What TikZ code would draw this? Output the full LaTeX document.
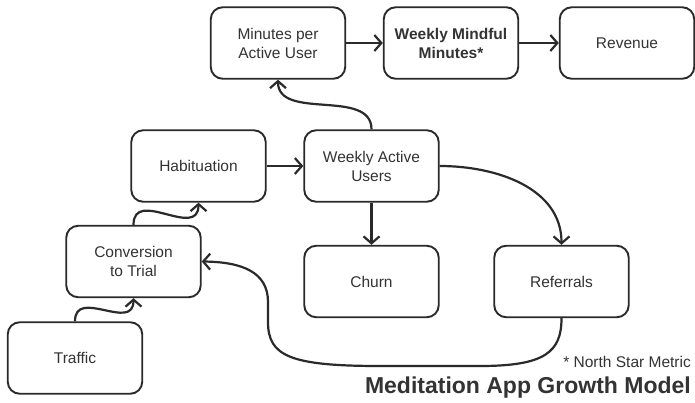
\documentclass[tikz,border=0pt]{standalone}
\usepackage{fontspec}
\setmainfont{Liberation Sans}
\usetikzlibrary{arrows.meta}
\definecolor{ink}{HTML}{2A2A2A}
\definecolor{txt}{HTML}{333333}
\begin{document}
\begin{tikzpicture}[x=1pt,y=-1pt,
  box/.style={draw=ink, line width=1.9pt, rounded corners=12pt, minimum width=134.5pt, minimum height=71.5pt,
    align=center, font=\fontsize{15.5}{19}\selectfont, text=txt, inner sep=0pt, fill=white},
  arr/.style={draw=ink, line width=2.2pt, -{Straight Barb[length=7pt,width=16pt,line width=2.2pt]}}]
\useasboundingbox (0,0) rectangle (695,403);
\fill[white] (0,0) rectangle (695,403);
\node[box] (mpau) at (278,43) {Minutes per\\Active User};
\node[box,font=\fontsize{15.5}{19}\selectfont\bfseries] (wmm) at (451,43) {Weekly Mindful\\Minutes*};
\node[box] (rev) at (627,43) {Revenue};
\node[box] (hab) at (198.5,166) {Habituation};
\node[box] (wau) at (371.5,166) {Weekly Active\\Users};
\node[box] (conv) at (133.5,261.5) {Conversion\\to Trial};
\node[box] (churn) at (371.5,281.5) {Churn};
\node[box] (ref) at (561.5,281.5) {Referrals};
\node[box] (traffic) at (75,358) {Traffic};
\draw[arr] (traffic.north) to[out=90,in=-90,looseness=1.4] (conv.south);
\draw[arr] (conv.north) to[out=90,in=-90,looseness=1.4] (hab.south);
\draw[arr] (hab.east) -- (wau.west);
\draw[arr] (wau.north) to[out=90,in=-90] (mpau.south);
\draw[arr] (mpau.east) -- (wmm.west);
\draw[arr] (wmm.east) -- (rev.west);
\draw[arr] (wau.south) -- (churn.north);
\draw[arr] (wau.east) to[out=0,in=90] (ref.north);
\draw[arr] (ref.south) .. controls (561.5,352) and (545,366) .. (480,366) -- (380,366)
  .. controls (290,366) and (268,356) .. (268,322) -- (268,302)
  .. controls (268,272) and (242,262) .. (conv.east);
\node[anchor=base east, text=txt, font=\fontsize{15.5}{19}\selectfont, inner sep=0pt] (note) at (691,367) {* North Star Metric};
\node[anchor=base east, text=txt, font=\fontsize{23}{27}\selectfont\bfseries, inner sep=0pt] (title) at (691,393) {Meditation App Growth Model};
\end{tikzpicture}
\end{document}
